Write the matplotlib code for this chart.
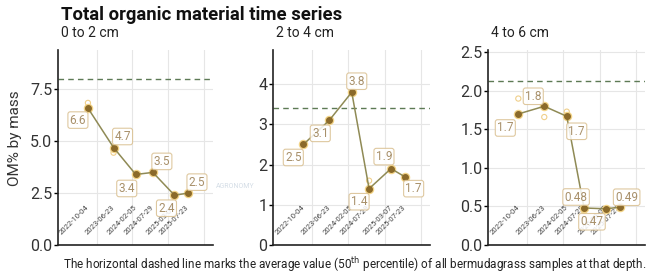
import numpy as np
import matplotlib.pyplot as plt
import matplotlib.dates as mdates
import matplotlib.transforms as mtransforms

plt.rcParams['font.family'] = ['Roboto', 'DejaVu Sans']

dates = np.array(['2022-10-04', '2023-06-23', '2024-02-05', '2024-07-29',
                  '2025-03-07', '2025-07-23'], dtype='datetime64[D]')
date_labels = [str(d) for d in dates]

depths = ['0 to 2 cm', '2 to 4 cm', '4 to 6 cm']
om_0_2 = [6.6, 4.7, 3.4, 3.5, 2.4, 2.5]
om_2_4 = [2.5, 3.1, 3.8, 1.4, 1.9, 1.7]
om_4_6 = [1.7, 1.8, 1.67, 0.48, 0.47, 0.49]
labels_0_2 = ['6.6', '4.7', '3.4', '3.5', '2.4', '2.5']
labels_2_4 = ['2.5', '3.1', '3.8', '1.4', '1.9', '1.7']
labels_4_6 = ['1.7', '1.8', '1.7', '0.48', '0.47', '0.49']
median_ref = [8.0, 3.4, 2.13]

# individual samples (hollow circles)
samp_dates_0_2 = np.array(['2022-10-04', '2023-06-23'], dtype='datetime64[D]')
samp_0_2 = [6.85, 4.45]
samp_dates_2_4 = np.array(['2024-07-29', '2025-03-07'], dtype='datetime64[D]')
samp_2_4 = [1.6, 1.85]
samp_dates_4_6 = np.array(['2022-10-04', '2023-06-23', '2024-02-05', '2024-07-29'], dtype='datetime64[D]')
samp_4_6 = [1.9, 1.66, 1.73, 0.44]

# label offsets in pixels (ggrepel-like placement)
offs = [
    [(-10, -12), (9, 11), (-9, -14), (9, 11), (-8, -13), (9, 11)],
    [(-10, -13), (-9, -13), (5, 11), (-10, -13), (-7, 12), (9, -12)],
    [(-13, -14), (-11, 10), (10, -15), (-8, 11), (-14, -13), (7, 10)],
]

series = [om_0_2, om_2_4, om_4_6]
labels = [labels_0_2, labels_2_4, labels_4_6]
samples = [(samp_dates_0_2, samp_0_2), (samp_dates_2_4, samp_2_4), (samp_dates_4_6, samp_4_6)]
ylims = [9.4, 4.85, 2.53]
yticks = [[0, 2.5, 5, 7.5], [0, 1, 2, 3, 4], [0, 0.5, 1, 1.5, 2, 2.5]]
yfmt = ['{:.1f}', '{:.0f}', '{:.1f}']

W, H = 646, 276
fig = plt.figure(figsize=(W / 100, H / 100), dpi=100)
boxes = [(58, 213), (273, 430), (488, 645)]
top, bot = 50, 245

xmin = np.datetime64('2021-12-02')
xmax = np.datetime64('2026-04-05')
years = np.array(['2023-01-01', '2024-01-01', '2025-01-01', '2026-01-01'], dtype='datetime64[D]')

line_c = '#8f8a55'
pt_c = '#8b6a2a'
lab_c = '#a8906a'

for i in range(3):
    l, r = boxes[i]
    ax = fig.add_axes([l / W, 1 - bot / H, (r - l) / W, (bot - top) / H])
    ax.set_xlim(mdates.date2num(xmin), mdates.date2num(xmax))
    ax.set_ylim(0, ylims[i])
    ax.set_xticks(mdates.date2num(years))
    ax.set_xticklabels([])
    ax.tick_params(axis='x', length=0)
    ax.set_yticks(yticks[i])
    ax.set_yticklabels([yfmt[i].format(v) for v in yticks[i]], fontsize=11.5, color='#333333')
    ax.tick_params(axis='y', length=3, width=1, pad=1)
    ax.grid(True, color='#e6e6e6', lw=0.8)
    ax.set_axisbelow(True)
    for s in ['top', 'right']:
        ax.spines[s].set_visible(False)
    for s in ['left', 'bottom']:
        ax.spines[s].set_linewidth(1.2)
        ax.spines[s].set_color('#222222')

    xd = mdates.date2num(dates)
    ax.axhline(median_ref[i], color='#5d7a55', ls=(0, (4, 3)), lw=1.0, zorder=1)
    sd, sv = samples[i]
    ax.scatter(mdates.date2num(sd), sv, s=14, facecolors='none', edgecolors='#f0cf8a', lw=0.8, zorder=2)
    ax.scatter(xd, series[i], s=34, color='#f3d488', zorder=2)
    ax.plot(xd, series[i], color=line_c, lw=1.1, zorder=3)
    ax.scatter(xd, series[i], s=16, color=pt_c, zorder=4)
    for j in range(6):
        dx, dy = offs[i][j]
        ax.annotate(labels[i][j], (xd[j], series[i][j]), xytext=(dx, dy),
                    textcoords='offset pixels', ha='center', va='center',
                    fontsize=8.5, color=lab_c, zorder=5,
                    bbox=dict(boxstyle='round,pad=0.15,rounding_size=0.2', fc='white',
                              ec='#d9bf8f', lw=0.8, alpha=0.85))
    trans = mtransforms.blended_transform_factory(ax.transData, ax.transAxes)
    for j in range(6):
        ax.text(xd[j], 0.2, date_labels[j], transform=trans, rotation=45,
                rotation_mode='anchor', ha='right', va='center', fontsize=5.5,
                color='#444444', zorder=1)
    fig.text(l / W + 0.005, 1 - 33 / H, depths[i], fontsize=10, color='#222222',
             ha='left', va='center')

fig.text(61 / W, 1 - 15 / H, 'Total organic material time series', fontsize=13.3,
         fontweight='bold', color='#111111', ha='left', va='center')
fig.text(15 / W, 1 - 138 / H, 'OM% by mass', rotation=90, fontsize=11,
         color='#333333', ha='center', va='center')
fig.text(235 / W, 1 - 187 / H, 'AGRONOMY', fontsize=5, color='#d4dde6',
         ha='center', va='center')
fig.text(355 / W, 1 - 265 / H,
         'The horizontal dashed line marks the average value (50$^{\\mathrm{th}}$ percentile) '
         'of all bermudagrass samples at that depth.',
         fontsize=8.5, color='#222222', ha='center', va='center')

fig.savefig('out.png', dpi=100)
